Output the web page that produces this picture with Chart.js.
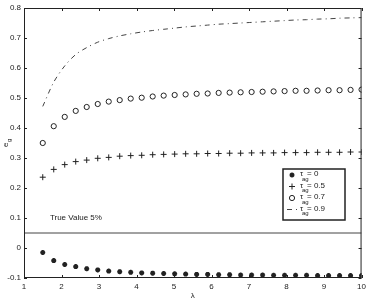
<!DOCTYPE html>
<html>
<head>
<meta charset="utf-8">
<script src="https://cdn.jsdelivr.net/npm/chart.js@4/dist/chart.umd.min.js"></script>
<style>
  body { margin: 0; background: #fff; }
  #wrap { width: 370px; height: 308px; }
</style>
</head>
<body>
<div id="wrap"><canvas id="c"></canvas></div>
<script>
// lambda values (x)
const lambdas = [1.5, 1.793, 2.086, 2.379, 2.672, 2.966, 3.259, 3.552, 3.845, 4.138,
  4.431, 4.724, 5.017, 5.310, 5.603, 5.897, 6.190, 6.483, 6.776, 7.069,
  7.362, 7.655, 7.948, 8.241, 8.534, 8.828, 9.121, 9.414, 9.707, 10];

// e_g for each tau_ag
const tau0 = [-0.015, -0.042, -0.055, -0.062, -0.069, -0.073, -0.077, -0.079, -0.081, -0.083,
  -0.084, -0.085, -0.086, -0.087, -0.088, -0.088, -0.089, -0.089, -0.090, -0.090,
  -0.090, -0.091, -0.091, -0.091, -0.091, -0.092, -0.092, -0.092, -0.092, -0.092];
const tau05 = [0.236, 0.262, 0.278, 0.288, 0.293, 0.299, 0.302, 0.306, 0.308, 0.309,
  0.311, 0.312, 0.313, 0.314, 0.314, 0.315, 0.315, 0.316, 0.316, 0.317,
  0.317, 0.317, 0.318, 0.318, 0.318, 0.319, 0.319, 0.319, 0.320, 0.320];
const tau07 = [0.350, 0.406, 0.437, 0.457, 0.470, 0.480, 0.488, 0.493, 0.498, 0.501,
  0.505, 0.508, 0.510, 0.512, 0.514, 0.515, 0.517, 0.518, 0.519, 0.520,
  0.521, 0.522, 0.523, 0.524, 0.524, 0.525, 0.526, 0.526, 0.527, 0.528];
const tau09 = [0.472, 0.553, 0.607, 0.645, 0.668, 0.686, 0.698, 0.707, 0.714, 0.720,
  0.725, 0.729, 0.733, 0.737, 0.740, 0.743, 0.746, 0.748, 0.750, 0.752,
  0.754, 0.756, 0.758, 0.760, 0.761, 0.763, 0.764, 0.766, 0.767, 0.768];

const trueValue = 0.05;
const xTicks = [1, 2, 3, 4, 5, 6, 7, 8, 9, 10];
const yTicks = [-0.1, 0, 0.1, 0.2, 0.3, 0.4, 0.5, 0.6, 0.7, 0.8];
const legendLabels = ["0", "0.5", "0.7", "0.9"];

const FONT = "'Liberation Sans', Arial, sans-serif";
const INK = "#222";

function pts(ys) {
  return lambdas.map((x, i) => ({ x: x, y: ys[i] }));
}

// ticks inside the box, frame, titles, note and legend
const decor = {
  id: 'decor',
  afterDraw(chart) {
    const ctx = chart.ctx;
    const a = chart.chartArea;
    const xs = chart.scales.x, ys = chart.scales.y;
    ctx.save();
    ctx.strokeStyle = INK;
    ctx.lineWidth = 1;
    ctx.strokeRect(a.left + 0.5, a.top + 0.5, a.right - a.left - 1, a.bottom - a.top - 1);
    ctx.beginPath();
    xTicks.forEach(v => {
      const px = Math.round(xs.getPixelForValue(v)) + 0.5;
      ctx.moveTo(px, a.bottom); ctx.lineTo(px, a.bottom - 3);
      ctx.moveTo(px, a.top); ctx.lineTo(px, a.top + 3);
    });
    yTicks.forEach(v => {
      const py = Math.round(ys.getPixelForValue(v)) + 0.5;
      ctx.moveTo(a.left, py); ctx.lineTo(a.left + 3, py);
      ctx.moveTo(a.right, py); ctx.lineTo(a.right - 3, py);
    });
    ctx.stroke();

    ctx.fillStyle = INK;
    // x title
    ctx.font = "8px " + FONT;
    ctx.textAlign = 'center';
    ctx.textBaseline = 'middle';
    ctx.fillText('λ', (a.left + a.right) / 2, 296);
    // y title
    ctx.save();
    ctx.translate(6, (a.top + a.bottom) / 2);
    ctx.rotate(-Math.PI / 2);
    ctx.textAlign = 'left';
    ctx.fillText('e', -4, 0);
    ctx.font = "6px " + FONT;
    ctx.fillText('g', 1, 3);
    ctx.restore();

    // note above the true value line
    ctx.font = "8px " + FONT;
    ctx.textAlign = 'left';
    ctx.fillText('True Value 5%', xs.getPixelForValue(1.69), ys.getPixelForValue(0.1));

    // legend box
    const lx = 283, ly = 169, lw = 62, lh = 51;
    ctx.fillStyle = '#fff';
    ctx.fillRect(lx, ly, lw, lh);
    ctx.lineWidth = 1.5;
    ctx.strokeStyle = INK;
    ctx.strokeRect(lx, ly, lw, lh);
    const rows = [175, 186.5, 198, 209.5];
    chart.data.datasets.slice(0, 4).forEach((ds, i) => {
      const cy = rows[i];
      const mx = 292;
      ctx.lineWidth = ds.borderWidth || 1;
      ctx.strokeStyle = ds.borderColor;
      if (ds.showLine) {
        ctx.setLineDash(ds.borderDash || []);
        ctx.beginPath();
        ctx.moveTo(mx - 5, cy); ctx.lineTo(mx + 5, cy);
        ctx.stroke();
        ctx.setLineDash([]);
      } else {
        ctx.fillStyle = ds.pointBackgroundColor === 'transparent' ? '#fff' : INK;
        Chart.helpers.drawPoint(ctx, {
          pointStyle: ds.pointStyle, radius: ds.pointRadius,
          borderWidth: ds.pointBorderWidth, rotation: 0
        }, mx, cy);
      }
      ctx.fillStyle = INK;
      ctx.font = "8px " + FONT;
      ctx.fillText('τ', 300, cy - 1);
      ctx.font = "6px " + FONT;
      ctx.fillText('ag', 302, cy + 4);
      ctx.font = "8px " + FONT;
      ctx.fillText('= ' + legendLabels[i], 307, cy - 1);
    });
    ctx.restore();
  }
};

new Chart(document.getElementById('c'), {
  type: 'scatter',
  data: {
    datasets: [
      {
        label: 'tau_ag = 0',
        data: pts(tau0),
        showLine: false,
        pointStyle: 'star',
        pointRadius: 2.5,
        pointBorderWidth: 1.6,
        borderColor: INK,
        pointBorderColor: INK,
        pointBackgroundColor: INK,
        borderWidth: 1.6
      },
      {
        label: 'tau_ag = 0.5',
        data: pts(tau05),
        showLine: false,
        pointStyle: 'cross',
        pointRadius: 3,
        pointBorderWidth: 1,
        borderColor: INK,
        pointBorderColor: INK,
        borderWidth: 1
      },
      {
        label: 'tau_ag = 0.7',
        data: pts(tau07),
        showLine: false,
        pointStyle: 'circle',
        pointRadius: 2.6,
        pointBorderWidth: 1,
        borderColor: INK,
        pointBorderColor: INK,
        pointBackgroundColor: 'transparent',
        borderWidth: 1
      },
      {
        label: 'tau_ag = 0.9',
        data: pts(tau09),
        showLine: true,
        pointRadius: 0,
        borderColor: '#444',
        borderWidth: 1,
        borderDash: [5, 4, 1, 4],
        tension: 0.3
      },
      {
        label: 'true value',
        data: [{ x: 1, y: trueValue }, { x: 10, y: trueValue }],
        showLine: true,
        pointRadius: 0,
        borderColor: '#444',
        borderWidth: 1
      }
    ]
  },
  options: {
    responsive: true,
    maintainAspectRatio: false,
    animation: false,
    layout: { autoPadding: false, padding: { top: 8, right: 5, left: 0, bottom: 0 } },
    plugins: {
      legend: { display: false },
      tooltip: { enabled: false }
    },
    scales: {
      x: {
        type: 'linear',
        min: 1, max: 10,
        afterFit: s => { s.height = 30; },
        grid: { display: false, drawTicks: false },
        border: { display: false },
        ticks: {
          stepSize: 1, padding: 4, color: INK,
          font: { family: FONT, size: 8 },
          maxRotation: 0
        }
      },
      y: {
        min: -0.1, max: 0.8,
        afterFit: s => { s.width = 24; },
        grid: { display: false, drawTicks: false },
        border: { display: false },
        ticks: {
          stepSize: 0.1, padding: 3, color: INK,
          font: { family: FONT, size: 8 },
          callback: v => String(Number(v.toFixed(1)))
        }
      }
    }
  },
  plugins: [decor]
});
</script>
</body>
</html>
